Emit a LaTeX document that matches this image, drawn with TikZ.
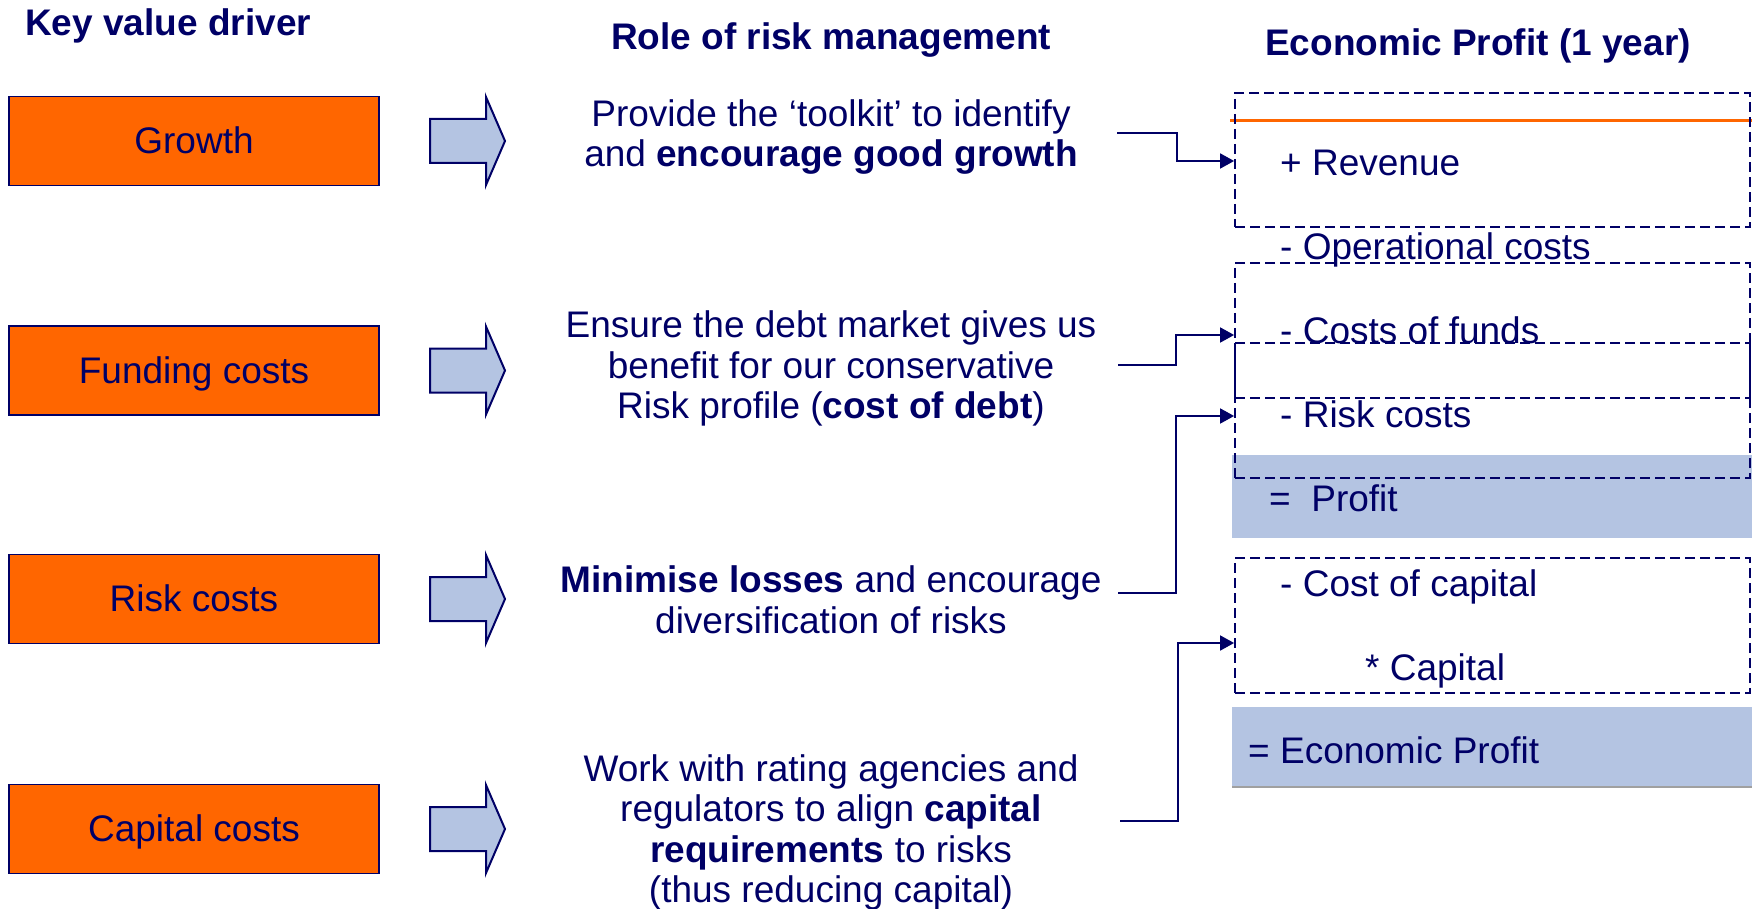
\documentclass[tikz,border=0pt]{standalone}
\usepackage{fontspec}
\setmainfont{Liberation Sans}
\usetikzlibrary{arrows.meta,calc}
\definecolor{navy}{RGB}{0,0,102}
\definecolor{orng}{RGB}{255,102,0}
\definecolor{lblue}{RGB}{180,196,226}
\definecolor{lgray}{RGB}{160,160,160}
\begin{document}
\begin{tikzpicture}[x=1pt,y=-1pt,
  every node/.style={text=navy, inner sep=0pt, font=\fontsize{37}{40.5}\selectfont},
  hdr/.style={font=\fontsize{37}{40.5}\selectfont\bfseries},
  driver/.style={draw=navy, line width=1.5pt, fill=orng, minimum width=370pt, minimum height=89pt,
    text height=33.5pt, text depth=7.8pt},
  midtext/.style={align=center},
  dbox/.style={draw=navy, line width=1.8pt, dash pattern=on 10pt off 5pt, minimum width=515pt},
  fillbox/.style={fill=lblue, minimum width=520pt},
  conn/.style={draw=navy, line width=1.8pt, -{Triangle[length=14pt,width=15pt]}},
  barrow/.style={draw=navy, line width=2pt, fill=lblue, line join=miter},
  item/.style={anchor=base west},
  ]
\useasboundingbox (0,0) rectangle (1756,909);

% headers
\node[hdr, anchor=base west] (h1) at (25,35.5) {Key value driver};
\node[hdr, anchor=base] (h2) at (831,50) {Role of risk management};
\node[hdr, anchor=base] (h3) at (1478,55.5) {Economic Profit (1 year)};

% driver boxes
\node[driver] (d1) at (194,141) {Growth};
\node[driver] (d2) at (194,370.5) {Funding costs};
\node[driver] (d3) at (194,599) {Risk costs};
\node[driver] (d4) at (194,829) {Capital costs};

% block arrows
\foreach \c in {141,370.5,599,829}{
  \draw[barrow] (430,\c-22) -- (486,\c-22) -- (486,\c-44) -- (505,\c)
    -- (486,\c+44) -- (486,\c+22) -- (430,\c+22) -- cycle;
}

% middle texts
\node[midtext] (m1) at (831,137) {Provide the ‘toolkit’ to identify\\and \textbf{encourage good growth}};
\node[midtext] (m2) at (831,368.5) {Ensure the debt market gives us\\benefit for our conservative\\Risk profile (\textbf{cost of debt})};
\node[midtext] (m3) at (831,600) {\textbf{Minimise losses} and encourage\\diversification of risks};
\node[midtext] (m4) at (831,832.5) {Work with rating agencies and\\regulators to align \textbf{capital}\\\textbf{requirements} to risks\\(thus reducing capital)};

% right panel fills
\node[fillbox, minimum height=83pt] (pf) at (1491.5,496.5) {};
\node[fillbox, minimum height=80pt] (ef) at (1492,747) {};
\draw[lgray, line width=2pt] (ef.south west) -- (ef.south east);
\draw[orng, line width=3pt] (1230,121) -- (1752,121);

% dashed boxes
\node[dbox, minimum height=134pt] (b1) at (1492.5,160) {};
\node[dbox, minimum height=135pt] (b2) at (1492.5,330.5) {};
\node[dbox, minimum height=135pt] (b3) at (1492.5,410.5) {};
\node[dbox, minimum height=135pt] (b4) at (1492.5,625.5) {};

% right panel texts
\node[item] (r1) at (1280,176) {+ Revenue};
\node[item] (r2) at (1280,260) {- Operational costs};
\node[item] (r3) at (1280,343) {- Costs of funds};
\node[item] (r4) at (1280,427) {- Risk costs};
\node[item] (r5) at (1269,511) {=\ \ Profit};
\node[item] (r6) at (1280,596) {- Cost of capital};
\node[item] (r7) at (1365,680) {* Capital};
\node[item] (r8) at (1248,763) {= Economic Profit};

% connectors
\coordinate (s1) at (1117,133);
\coordinate (s2) at (1118,365);
\coordinate (s3) at (1118,593);
\coordinate (s4) at (1120,821);
\draw[conn] (s1) -- ++(60,0) |- ($(b1.west)+(0,1)$);
\draw[conn] (s2) -- ++(58,0) |- ($(b2.west)+(0,4.5)$);
\draw[conn] (s3) -- ++(58,0) |- ($(b3.west)+(0,5.5)$);
\draw[conn] (s4) -- ++(58,0) |- ($(b4.west)+(0,17.5)$);
\end{tikzpicture}
\end{document}
